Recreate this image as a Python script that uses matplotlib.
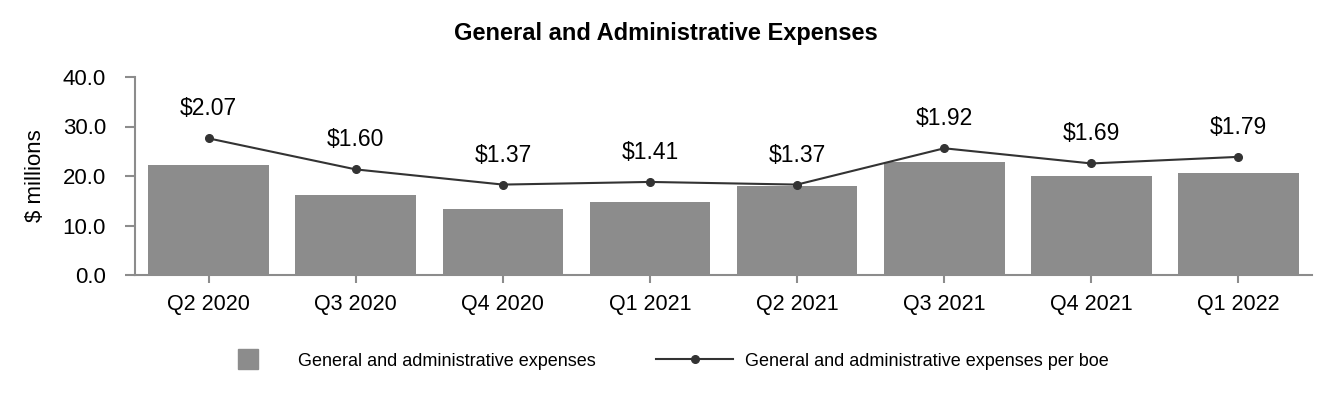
import matplotlib
matplotlib.use('Agg')
import matplotlib.pyplot as plt
from matplotlib.lines import Line2D

plt.rcParams['font.family'] = ['Liberation Sans', 'DejaVu Sans']

quarters = ['Q2 2020', 'Q3 2020', 'Q4 2020', 'Q1 2021', 'Q2 2021', 'Q3 2021', 'Q4 2021', 'Q1 2022']
ga_expenses = [22.3, 16.2, 13.4, 14.7, 17.9, 22.8, 20.0, 20.7]  # $ millions
ga_per_boe = [2.07, 1.60, 1.37, 1.41, 1.37, 1.92, 1.69, 1.79]  # $/boe
y_ticks = [0, 10, 20, 30, 40]

bar_color = '#8c8c8c'
line_color = '#333333'
axis_color = '#8c8c8c'

fig = plt.figure(figsize=(13.32, 4), dpi=100)
ax = fig.add_axes([0.1014, 0.3125, 0.8836, 0.495])
x = range(len(quarters))

ax.bar(x, ga_expenses, width=0.82, color=bar_color, zorder=2)
ax.set_xlim(-0.5, len(quarters) - 0.5)
ax.set_ylim(0, 40)
ax.set_yticks(y_ticks)
ax.set_yticklabels(['%.1f' % v for v in y_ticks], fontsize=16)
ax.set_xticks(list(x))
ax.set_xticklabels(quarters, fontsize=15.5)
ax.set_ylabel('$ millions', fontsize=16, labelpad=12)
for s in ['top', 'right']:
    ax.spines[s].set_visible(False)
for s in ['left', 'bottom']:
    ax.spines[s].set_color(axis_color)
    ax.spines[s].set_linewidth(1.5)
ax.tick_params(axis='both', colors=axis_color, labelcolor='black', width=1.5, length=7)
ax.tick_params(axis='y', pad=14)
ax.tick_params(axis='x', pad=8, length=6)

# per boe on a hidden second axis
ax2 = ax.twinx()
ax2.set_ylim(0, 3.0)
ax2.plot(x, ga_per_boe, color=line_color, lw=1.5, marker='o', ms=5.5, zorder=3)
for i, v in enumerate(ga_per_boe):
    ax2.annotate('$%.2f' % v, (i, v), xytext=(0, 13), textcoords='offset points',
                 ha='center', va='bottom', fontsize=16.5)
ax2.axis('off')

fig.suptitle('General and Administrative Expenses', fontsize=17, fontweight='bold', y=0.945)

handles = [Line2D([], [], ls='none', marker='s', ms=15, color=bar_color),
           Line2D([], [], color=line_color, lw=1.5, marker='o', ms=5.5)]
labels = ['General and administrative expenses', 'General and administrative expenses per boe']
fig.legend(handles, labels, loc='center', bbox_to_anchor=(0.4947, 0.0975), ncol=2, frameon=False,
           fontsize=13, handlelength=4.3, handletextpad=0.66, columnspacing=3.3)

plt.savefig('out.png', dpi=100)
